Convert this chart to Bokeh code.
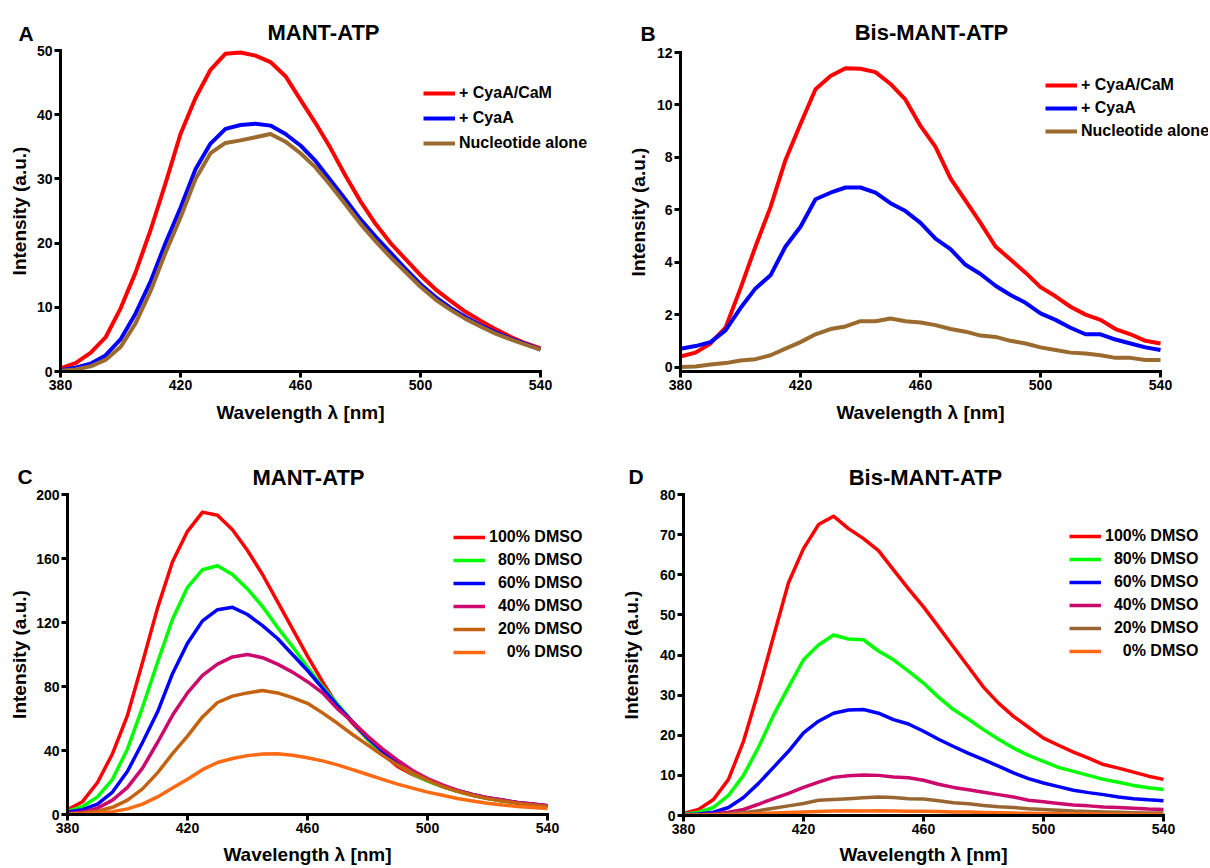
from bokeh.plotting import figure
from bokeh.models import Legend, LegendItem, Label, Range1d, FixedTicker
from bokeh.layouts import column, row
from bokeh.embed import file_html
from bokeh.resources import INLINE

FONT = "Liberation Sans"

# ---------------- data ----------------
wavelength = [380, 385, 390, 395, 400, 405, 410, 415, 420, 425, 430, 435, 440,
              445, 450, 455, 460, 465, 470, 475, 480, 485, 490, 495, 500, 505,
              510, 515, 520, 525, 530, 535, 540]
x_ticks = [380, 420, 460, 500, 540]

# Panel A: MANT-ATP
a_labels = ["+ CyaA/CaM", "+ CyaA", "Nucleotide alone"]
a_cyaa_cam = [0.5, 1.3, 2.9, 5.3, 9.8, 15.4, 22.0, 29.3, 37.0, 42.6, 47.0, 49.5, 49.7,
              49.2, 48.2, 46.0, 42.3, 38.7, 34.8, 30.5, 26.5, 23.0, 20.0, 17.5, 15.0,
              12.8, 11.0, 9.3, 7.9, 6.6, 5.4, 4.4, 3.6]
a_cyaa = [0.2, 0.6, 1.2, 2.5, 5.0, 9.0, 14.0, 20.0, 25.5, 31.5, 35.5, 37.8, 38.4,
          38.6, 38.3, 37.0, 35.2, 32.8, 29.8, 26.8, 23.7, 21.0, 18.5, 16.0, 13.6,
          11.6, 9.9, 8.5, 7.2, 6.1, 5.1, 4.3, 3.4]
a_alone = [0.1, 0.3, 0.8, 1.8, 3.8, 7.5, 12.5, 18.5, 24.0, 30.0, 34.0, 35.6, 36.0,
           36.5, 37.0, 35.8, 34.0, 31.8, 29.0, 26.0, 23.0, 20.3, 17.8, 15.5, 13.2,
           11.2, 9.6, 8.2, 7.0, 5.9, 5.0, 4.2, 3.4]
a_yticks = [0, 10, 20, 30, 40, 50]

# Panel B: Bis-MANT-ATP
b_cyaa_cam = [0.4, 0.55, 0.9, 1.5, 3.0, 4.6, 6.1, 7.9, 9.27, 10.6, 11.1, 11.4, 11.38,
              11.25, 10.8, 10.2, 9.2, 8.4, 7.2, 6.35, 5.5, 4.6, 4.1, 3.6, 3.05,
              2.7, 2.3, 2.0, 1.8, 1.45, 1.25, 1.0, 0.9]
b_cyaa = [0.7, 0.8, 0.95, 1.4, 2.25, 3.0, 3.5, 4.6, 5.35, 6.4, 6.65, 6.85, 6.85,
          6.65, 6.25, 5.95, 5.5, 4.9, 4.5, 3.9, 3.55, 3.1, 2.75, 2.45, 2.05,
          1.8, 1.5, 1.25, 1.25, 1.05, 0.9, 0.75, 0.65]
b_alone = [0.0, 0.02, 0.1, 0.15, 0.25, 0.3, 0.45, 0.7, 0.95, 1.25, 1.45, 1.55, 1.75,
           1.75, 1.85, 1.75, 1.7, 1.6, 1.45, 1.35, 1.2, 1.15, 1.0, 0.9, 0.75,
           0.65, 0.55, 0.52, 0.45, 0.35, 0.35, 0.27, 0.27]
b_yticks = [0, 2, 4, 6, 8, 10, 12]

# Panels C and D: DMSO series
dmso_labels = ["100% DMSO", "\u200780% DMSO", "\u200760% DMSO",
               "\u200740% DMSO", "\u200720% DMSO", "\u2007\u20070% DMSO"]
c_100 = [3, 8, 20, 38, 62, 95, 129, 158, 177, 189, 187, 178, 165, 150, 133, 116,
         99, 83, 68, 57, 47, 38, 30, 25, 21, 17.5, 14.5, 12, 10.2, 8.6, 7.3, 6.3, 5.5]
c_80 = [2, 5, 11, 22, 41, 67, 95, 122, 142, 153, 155.5, 150, 141, 130, 117, 105,
        92, 80, 69, 58, 47, 38.5, 31.5, 25.5, 21, 17.5, 14.5, 12, 10, 8.5, 7, 6, 5]
c_60 = [1.5, 3, 6.5, 14, 27, 45, 64, 88, 107, 121, 128, 129.5, 125, 118, 110, 100,
        90, 79, 68, 58, 48, 39.5, 32.5, 26.5, 22, 18, 15, 12.5, 10.5, 9, 7.5, 6.5, 5.5]
c_40 = [0.5, 1.5, 4, 9, 17, 29, 45, 62, 76, 87, 94, 98.5, 100, 98, 94, 89, 83,
        76, 66, 58, 49, 41, 34, 27.5, 22.5, 18.5, 15, 12.5, 10.5, 9, 7.5, 6.5, 5.5]
c_20 = [0.3, 0.8, 2, 4.5, 9, 16, 26, 38, 49, 61, 70, 74, 76, 77.5, 76, 73, 69.5,
        63.5, 57, 50, 43.5, 37, 31, 26, 21.5, 17.5, 14.5, 12, 10, 8.5, 7, 6, 5]
c_0 = [0.1, 0.3, 0.8, 1.8, 3.5, 6.5, 11, 16.5, 22, 28, 32.5, 35, 36.8, 37.8, 38,
       37, 35.5, 33.5, 31, 28, 25, 22, 19, 16.5, 14, 12, 10, 8.5, 7, 6, 5, 4.3, 3.8]
c_yticks = [0, 40, 80, 120, 160, 200]

d_100 = [0.5, 1.5, 4, 9, 18.5, 31, 44.6, 58, 66.5, 72.5, 74.6, 71.5, 69, 66, 61.2,
         56.5, 52, 47, 42, 37, 32, 28, 24.7, 22, 19.3, 17.5, 15.8, 14.3, 12.7, 11.8,
         10.8, 9.8, 9]
d_80 = [0.3, 0.8, 2, 5, 10, 17, 25, 32, 38.8, 42.5, 45, 44, 43.8, 41, 38.8, 36,
        33, 29.5, 26.4, 24, 21.4, 19, 16.8, 15, 13.5, 12, 11, 10, 9, 8.3, 7.5,
        6.9, 6.5]
d_60 = [0.2, 0.4, 0.8, 2, 4.5, 8, 12, 16, 20.6, 23.5, 25.5, 26.3, 26.4, 25.5, 23.9,
        22.8, 21, 19, 17.2, 15.5, 13.9, 12.3, 10.6, 9.2, 8.1, 7.2, 6.3, 5.7, 5.2,
        4.6, 4.2, 3.9, 3.7]
d_40 = [0.1, 0.2, 0.4, 0.8, 1.5, 2.8, 4.2, 5.5, 7, 8.3, 9.5, 9.9, 10.1, 10, 9.6,
        9.4, 8.8, 7.8, 7, 6.4, 5.8, 5.2, 4.6, 3.8, 3.4, 3, 2.6, 2.4, 2.1, 2, 1.8,
        1.6, 1.5]
d_20 = [0.05, 0.1, 0.2, 0.4, 0.7, 1.2, 1.8, 2.4, 3, 3.8, 4, 4.2, 4.4, 4.6, 4.5,
        4.2, 4.1, 3.7, 3.2, 2.9, 2.5, 2.2, 2, 1.7, 1.5, 1.3, 1.1, 1, 0.9, 0.8,
        0.7, 0.65, 0.6]
d_0 = [0.0, 0.05, 0.1, 0.2, 0.3, 0.45, 0.6, 0.75, 0.9, 1.0, 1.1, 1.2, 1.1, 1.2,
       1.15, 1.05, 1.05, 1.0, 0.9, 0.85, 0.75, 0.7, 0.6, 0.55, 0.5, 0.45, 0.4,
       0.35, 0.32, 0.3, 0.28, 0.25, 0.24]
d_yticks = [0, 10, 20, 30, 40, 50, 60, 70, 80]

AB_COLORS = ["#FF0000", "#0000FF", "#9B6A2F"]
C_COLORS = ["#FF0000", "#00FF00", "#0000FF", "#CC0A6E", "#C46210", "#FF6A13"]
D_COLORS = ["#FF0000", "#00FF00", "#0000FF", "#CC0A6E", "#996633", "#FF6A13"]

PX_PER_NM = 3.0


class Panel:
    """Figure whose frame fills the whole canvas; axes are pinned inside it."""

    def __init__(self, width, height, axis_left, axis_bottom, axis_top,
                 y_lo, y_hi, yticks, y_standoff, x_standoff):
        self.h = height
        self.x0 = 380 - axis_left / PX_PER_NM
        x1 = self.x0 + width / PX_PER_NM
        self.y_lo = y_lo
        self.axis_bottom = axis_bottom
        self.upp = (y_hi - y_lo) / (axis_bottom - axis_top)
        y0 = y_lo - (height - axis_bottom) * self.upp
        y1 = y_lo + axis_bottom * self.upp
        p = figure(width=width, height=height, x_range=Range1d(self.x0, x1),
                   y_range=Range1d(y0, y1), min_border=0,
                   output_backend="svg", toolbar_location=None)
        p.xgrid.visible = False
        p.ygrid.visible = False
        p.outline_line_color = None
        p.xaxis.ticker = FixedTicker(ticks=x_ticks)
        p.yaxis.ticker = FixedTicker(ticks=yticks)
        p.xaxis.bounds = (380, 540)
        p.yaxis.bounds = (y_lo, y_hi)
        p.xaxis.fixed_location = y_lo
        p.yaxis.fixed_location = 380
        p.xaxis.axis_label = "Wavelength λ [nm]"
        p.yaxis.axis_label = "Intensity (a.u.)"
        for ax in (p.xaxis[0], p.yaxis[0]):
            ax.axis_line_width = 3
            ax.axis_line_color = "black"
            ax.axis_line_cap = "square"
            ax.major_tick_line_width = 3
            ax.major_tick_line_color = "black"
            ax.major_tick_out = 6
            ax.major_tick_in = 0
            ax.minor_tick_line_color = None
            ax.major_label_text_font = FONT
            ax.major_label_text_font_style = "bold"
            ax.major_label_text_font_size = "14px"
            ax.major_label_text_color = "black"
            ax.major_label_standoff = 2
            ax.axis_label_text_font = FONT
            ax.axis_label_text_font_size = "19px"
            ax.axis_label_text_font_style = "bold"
            ax.axis_label_text_color = "black"
        p.yaxis.axis_label_standoff = y_standoff
        p.xaxis.axis_label_standoff = x_standoff
        self.p = p

    def dx(self, px):
        return self.x0 + px / PX_PER_NM

    def dy(self, py):
        return self.y_lo + (self.axis_bottom - py) * self.upp

    def texts(self, letter, letter_px, letter_py, title, title_px, title_py):
        self.p.add_layout(Label(x=self.dx(letter_px), y=self.dy(letter_py),
                                text=letter, text_font=FONT,
                                text_font_size="21px", text_font_style="bold",
                                text_align="left", text_baseline="alphabetic",
                                text_color="black"))
        self.p.add_layout(Label(x=self.dx(title_px), y=self.dy(title_py),
                                text=title, text_font=FONT,
                                text_font_size="22px", text_font_style="bold",
                                text_align="center", text_baseline="alphabetic",
                                text_color="black"))

    def series(self, series, labels, colors, lw, left_px, first_center_py,
               row_h, spacing):
        items = []
        for ys, lab, col in zip(series, labels, colors):
            r = self.p.line(wavelength, ys, line_color=col, line_width=lw,
                            line_join="round")
            items.append(LegendItem(label=lab, renderers=[r]))
        n = len(items)
        top = first_center_py - row_h / 2
        bottom = top + n * row_h + (n - 1) * spacing
        leg = Legend(items=items, location=(left_px, self.h - bottom),
                     orientation="vertical", padding=0, margin=0,
                     spacing=spacing, glyph_width=32, glyph_height=row_h,
                     label_height=row_h, label_standoff=4,
                     label_text_font=FONT, label_text_font_size="16px",
                     label_text_font_style="bold", label_text_color="black",
                     border_line_color=None, background_fill_alpha=0)
        self.p.add_layout(leg)


# Panel A  (page origin 0,0)
A = Panel(605, 430, 60, 371, 50, 0, 50, a_yticks, 4, 9)
A.series([a_cyaa_cam, a_cyaa, a_alone], a_labels, AB_COLORS, 4, 423, 93, 20, 5)
A.texts("A", 18, 33, "MANT-ATP", 323, 32)

# Panel B  (page origin 605,0)
B = Panel(603, 430, 75, 371, 52, -0.17, 12, b_yticks, 5, 9)
B.series([b_cyaa_cam, b_cyaa, b_alone], a_labels, AB_COLORS, 4, 440, 85, 18, 5)
B.texts("B", 35, 33, "Bis-MANT-ATP", 326, 32)

# Panel C  (page origin 0,430)
C = Panel(605, 436, 67, 384, 64, 0, 200, c_yticks, 3, 8)
C.series([c_100, c_80, c_60, c_40, c_20, c_0], dmso_labels, C_COLORS, 3.5,
         453, 107, 18, 5)
C.texts("C", 17, 46, "MANT-ATP", 308, 47)

# Panel D  (page origin 605,430)
D = Panel(603, 436, 78, 385, 64, 0, 80, d_yticks, 15, 7)
D.series([d_100, d_80, d_60, d_40, d_20, d_0], dmso_labels, D_COLORS, 3.5,
         464, 106, 18, 5)
D.texts("D", 23, 46, "Bis-MANT-ATP", 320, 47)

layout = column(row(A.p, B.p), row(C.p, D.p))
open("out.html", "w").write(file_html(layout, INLINE))
